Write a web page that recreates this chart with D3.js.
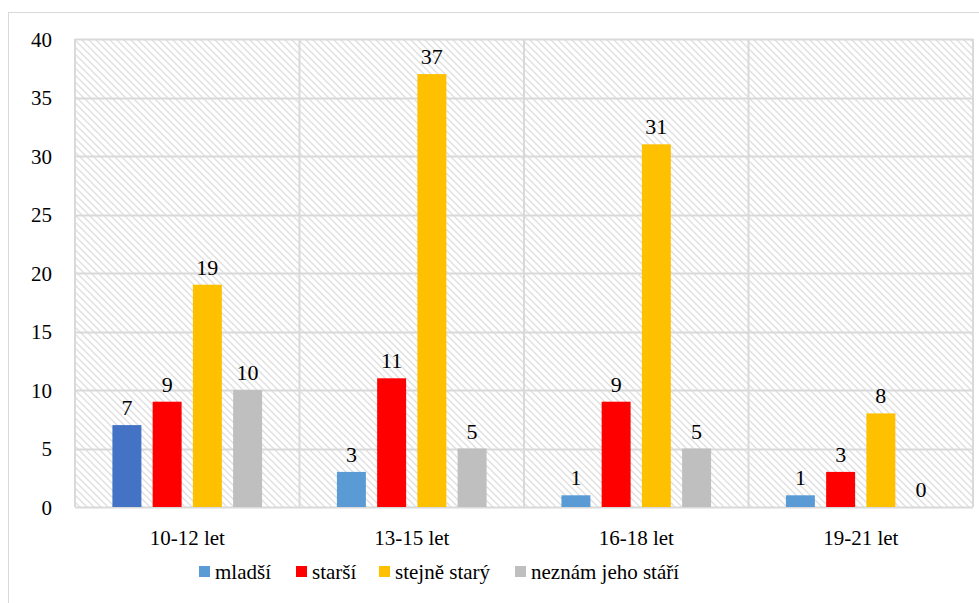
<!DOCTYPE html>
<html><head><meta charset="utf-8">
<script src="https://cdn.jsdelivr.net/npm/d3@7"></script>
<style>
html, body { margin:0; padding:0; background:#fff; font-family: "Liberation Serif"; }
svg text { font-family: "Liberation Serif"; }
</style>
</head><body>
<div id="chart"></div>
<script>
const categories = ["10-12 let", "13-15 let", "16-18 let", "19-21 let"];
const seriesNames = ["mladší", "starší", "stejně starý", "neznám jeho stáří"];
const mladsi = [7, 3, 1, 1];
const starsi = [9, 11, 9, 3];
const stejne = [19, 37, 31, 8];
const neznam = [10, 5, 5, 0];
const yTicks = [0, 5, 10, 15, 20, 25, 30, 35, 40];
const colors = ["#5B9BD5", "#FF0000", "#FFC000", "#BFBFBF"];
const seriesValues = [mladsi, starsi, stejne, neznam];

const W = 979, H = 603;
const svg = d3.select("#chart").append("svg").attr("width", W).attr("height", H)
  .style("display", "block");
const defs = svg.append("defs");
const pat = defs.append("pattern").attr("id", "hatch").attr("patternUnits", "userSpaceOnUse")
  .attr("width", 7).attr("height", 7);
pat.append("rect").attr("width", 7).attr("height", 7).attr("fill", "#fff");
pat.append("path").attr("d", "M-1,-1 L8,8 M-1,6 L1,8 M6,-1 L8,1").attr("stroke", "#e0e0e0").attr("stroke-width", 1.4);

svg.append("rect").attr("x", 8.5).attr("y", 12.5).attr("width", W).attr("height", H)
  .attr("fill", "none").attr("stroke", "#d9d9d9").attr("stroke-width", 1);

const m = {left: 75, top: 39, right: 973, bottom: 507};
const x0 = d3.scaleBand().domain(categories).range([m.left, m.right]).padding(0);
const x1 = d3.scaleBand().domain(seriesNames).range([0, x0.bandwidth()]).paddingInner(0.28).paddingOuter(0.93);
const y = d3.scaleLinear().domain([0, 40]).range([m.bottom, m.top]);

svg.append("rect").attr("x", m.left).attr("y", m.top).attr("width", m.right - m.left)
  .attr("height", m.bottom - m.top).attr("fill", "url(#hatch)");

svg.append("g").selectAll("line").data(yTicks).join("line")
  .attr("x1", m.left).attr("x2", m.right)
  .attr("y1", d => Math.round(y(d)) + 0.5).attr("y2", d => Math.round(y(d)) + 0.5)
  .attr("stroke", "#d9d9d9").attr("stroke-width", 2);
const seps = categories.map(c => x0(c)).concat([m.right]);
svg.append("g").selectAll("line").data(seps).join("line")
  .attr("x1", d => d).attr("x2", d => d).attr("y1", m.top).attr("y2", m.bottom)
  .attr("stroke", "#d9d9d9").attr("stroke-width", 2);

const yAxis = d3.axisLeft(y).tickValues(yTicks).tickSize(0).tickPadding(0);
const ya = svg.append("g").attr("transform", "translate(52,0)").call(yAxis)
  .attr("font-family", "Liberation Serif").attr("font-size", 21);
ya.select(".domain").remove();
ya.selectAll("text").attr("fill", "#000").attr("dy", "0.35em");

const xAxis = d3.axisBottom(x0).tickSize(0).tickPadding(0);
const xa = svg.append("g").attr("transform", `translate(0,${m.bottom + 23})`).call(xAxis)
  .attr("font-family", "Liberation Serif").attr("font-size", 21);
xa.select(".domain").remove();
xa.selectAll("text").attr("fill", "#000").attr("dy", "0.71em");

const data = [];
categories.forEach((c, i) => seriesNames.forEach((s, j) => data.push({c, s, j, i, v: seriesValues[j][i]})));
const g = svg.append("g").attr("font-family", "Liberation Serif").attr("font-size", 22);
g.selectAll("rect").data(data).join("rect")
  .attr("x", d => x0(d.c) + x1(d.s)).attr("width", x1.bandwidth())
  .attr("y", d => y(d.v)).attr("height", d => y(0) - y(d.v))
  .attr("fill", d => (d.i === 0 && d.j === 0) ? "#4472C4" : colors[d.j]);
g.selectAll("text").data(data).join("text")
  .attr("x", d => x0(d.c) + x1(d.s) + x1.bandwidth() / 2).attr("y", d => y(d.v) - 10)
  .attr("text-anchor", "middle").attr("fill", "#000").text(d => d.v);

const legX = [199, 296, 379, 515];
const lgRoot = svg.append("g").attr("font-family", "Liberation Serif").attr("font-size", 21);
const lg = lgRoot.selectAll("g").data(seriesNames).join("g")
  .attr("transform", (d, i) => `translate(${legX[i]},${566})`);
lg.append("rect").attr("width", 11).attr("height", 11).attr("fill", (d, i) => colors[i]);
lg.append("text").attr("x", 16).attr("y", 6).attr("dy", "0.35em").attr("fill", "#000").text(d => d);
</script>
</body></html>
